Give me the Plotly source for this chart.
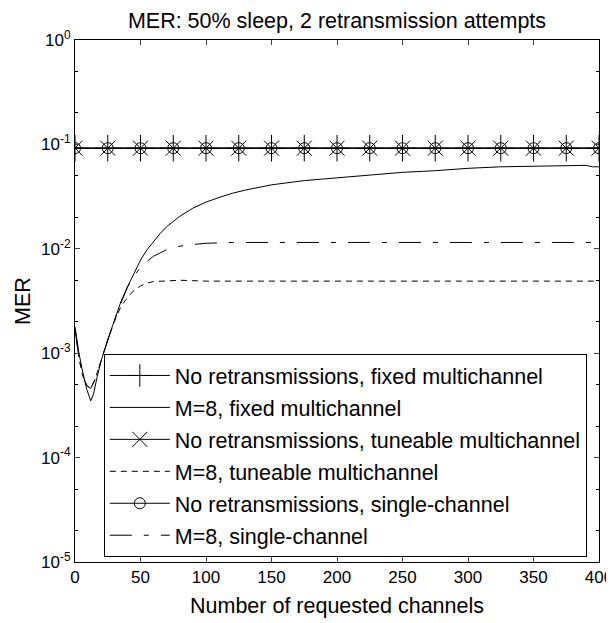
import plotly.graph_objects as go

# ---- data ----
x_marks = [0, 25, 50, 75, 100, 125, 150, 175, 200, 225, 250, 275, 300, 325, 350, 375, 400]
mer_noretx_fixed = [0.092] * 17
mer_noretx_tune = [0.092] * 17
mer_noretx_single = [0.092] * 17

x_fixed = [0, 3, 6, 9, 12, 14, 17, 20, 25, 30, 35, 40, 45, 50, 55, 60, 65, 70, 80, 90, 100,
           110, 120, 130, 140, 150, 175, 200, 225, 250, 275, 300, 325, 350, 375, 390, 395, 400]
mer_m8_fixed = [1.8e-3, 1.0e-3, 6.5e-4, 4.5e-4, 3.5e-4, 4.0e-4, 6.0e-4, 8.5e-4, 1.35e-3, 2.1e-3,
                3.1e-3, 4.3e-3, 5.7e-3, 7.8e-3, 9.8e-3, 0.0118, 0.014, 0.0163, 0.0205, 0.0245,
                0.028, 0.031, 0.034, 0.0365, 0.039, 0.041, 0.045, 0.048, 0.051, 0.054, 0.056,
                0.059, 0.061, 0.062, 0.063, 0.063, 0.061, 0.061]

x_tune = [0, 3, 6, 9, 12, 15, 20, 25, 30, 35, 40, 45, 50, 55, 60, 70, 80, 90, 100, 150, 200,
          250, 300, 350, 400]
mer_m8_tune = [1.7e-3, 9.0e-4, 6.0e-4, 4.9e-4, 4.6e-4, 5.5e-4, 8.5e-4, 1.35e-3, 2.0e-3, 2.8e-3,
               3.4e-3, 4.0e-3, 4.4e-3, 4.7e-3, 4.85e-3, 4.95e-3, 5.0e-3, 4.95e-3, 4.9e-3, 4.9e-3,
               4.9e-3, 4.9e-3, 4.9e-3, 4.9e-3, 4.9e-3]

x_single = [0, 3, 6, 9, 12, 15, 20, 25, 30, 35, 40, 45, 50, 55, 60, 70, 80, 90, 100, 120, 150,
            200, 250, 300, 350, 400]
mer_m8_single = [1.7e-3, 9.0e-4, 6.0e-4, 4.9e-4, 4.6e-4, 5.5e-4, 8.5e-4, 1.35e-3, 2.05e-3, 3.0e-3,
                 4.3e-3, 5.5e-3, 6.6e-3, 7.6e-3, 8.5e-3, 9.8e-3, 0.0106, 0.011, 0.0113, 0.0115,
                 0.0115, 0.0115, 0.0115, 0.0115, 0.0115, 0.0115]

y_tickvals = [1e-5, 1e-4, 1e-3, 1e-2, 1e-1, 1]
y_ticktext = ["10<sup>-5</sup>", "10<sup>-4</sup>", "10<sup>-3</sup>", "10<sup>-2</sup>",
              "10<sup>-1</sup>", "10<sup>0</sup>"]
x_tickvals = [0, 50, 100, 150, 200, 250, 300, 350, 400]

FONT = "Liberation Sans, Arial, sans-serif"

fig = go.Figure()
fig.add_trace(go.Scatter(x=x_marks, y=mer_noretx_fixed, mode="lines+markers",
                         name="No retransmissions, fixed multichannel", legendgroup="a",
                         line=dict(color="black", width=1),
                         marker=dict(symbol="cross-thin-open", size=19,
                                     line=dict(color="black", width=1))))
fig.add_trace(go.Scatter(x=x_fixed, y=mer_m8_fixed, mode="lines",
                         name="M=8, fixed multichannel", legendgroup="b",
                         line=dict(color="black", width=1)))
fig.add_trace(go.Scatter(x=x_marks, y=mer_noretx_tune, mode="lines+markers",
                         name="No retransmissions, tuneable multichannel", legendgroup="c",
                         line=dict(color="black", width=1),
                         marker=dict(symbol="x-thin-open", size=15,
                                     line=dict(color="black", width=1))))
fig.add_trace(go.Scatter(x=x_tune, y=mer_m8_tune, mode="lines",
                         name="M=8, tuneable multichannel", legendgroup="d",
                         line=dict(color="black", width=1, dash="6px,5px")))
fig.add_trace(go.Scatter(x=x_marks, y=mer_noretx_single, mode="lines+markers",
                         name="No retransmissions, single-channel", legendgroup="e",
                         line=dict(color="black", width=1),
                         marker=dict(symbol="circle-open", size=11,
                                     line=dict(color="black", width=1))))
fig.add_trace(go.Scatter(x=x_single, y=mer_m8_single, mode="lines",
                         name="M=8, single-channel", legendgroup="f",
                         line=dict(color="black", width=1, dash="22px,12px,5px,12px")))

fig.update_layout(
    width=614, height=623,
    margin=dict(l=67, r=23, t=32, b=69),
    paper_bgcolor="white", plot_bgcolor="white",
    font=dict(family=FONT, size=17, color="black"),
    title=dict(text="MER: 50% sleep, 2 retransmission attempts", x=0.5, xref="paper",
               xanchor="center", y=0.9807, yanchor="middle", font=dict(size=21.5)),
    showlegend=True,
    legend=dict(x=0.055, y=0.0096, xanchor="left", yanchor="bottom",
                bgcolor="white", bordercolor="black", borderwidth=1,
                font=dict(size=21.5), itemwidth=60, tracegroupgap=1,
                traceorder="grouped"),
)
fig.update_xaxes(range=[0, 400], tickvals=x_tickvals, ticks="inside", ticklen=5,
                 showgrid=False, zeroline=False, showline=True, linecolor="black",
                 linewidth=1, mirror="allticks", tickfont=dict(size=17), automargin=False,
                 ticklabeloverflow="allow",
                 title=dict(text="Number of requested channels", font=dict(size=21.5), standoff=11))
fig.update_yaxes(type="log", range=[-5, 0], tickvals=y_tickvals, ticktext=y_ticktext,
                 ticks="inside", ticklen=5, showgrid=False, zeroline=False, showline=True,
                 linecolor="black", linewidth=1, mirror="allticks", tickfont=dict(size=17),
                 automargin=False, ticklabeloverflow="allow",
                 minor=dict(ticks="inside", ticklen=3, tickcolor="black", showgrid=False),
                 title=dict(text="MER", font=dict(size=21.5), standoff=4))

fig.write_html("out.html")
